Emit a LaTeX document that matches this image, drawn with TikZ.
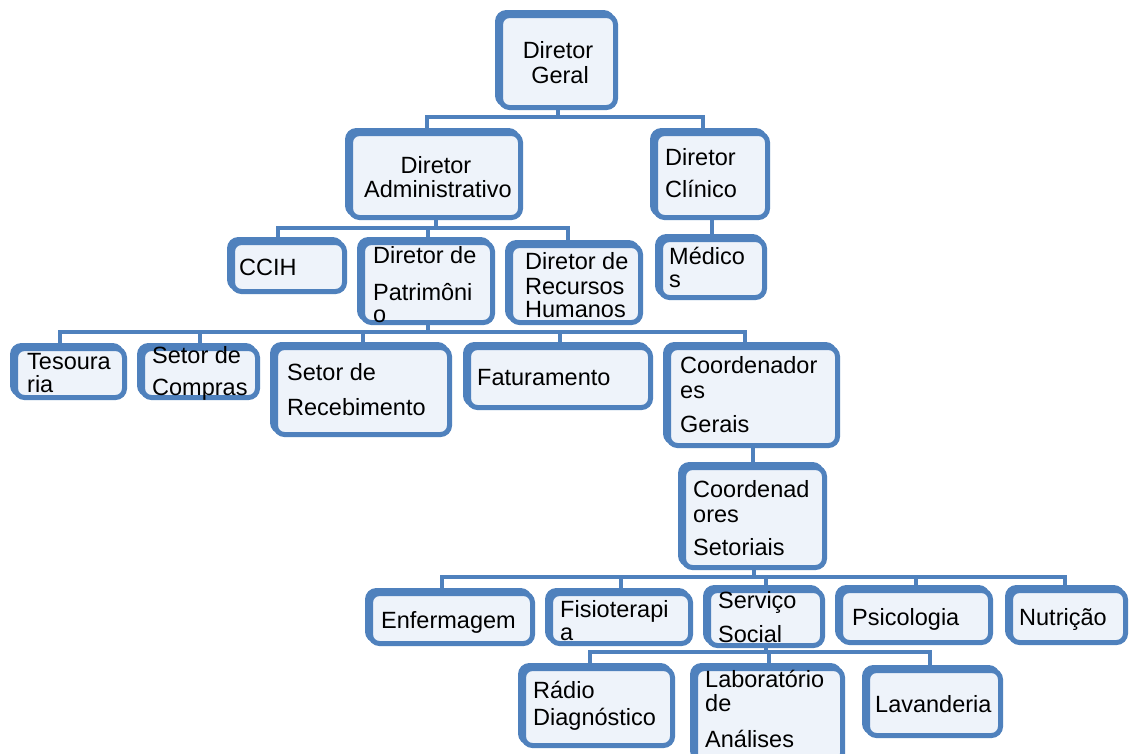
\documentclass[tikz,border=0pt]{standalone}
\usepackage{fontspec}
\setmainfont{Liberation Sans}
\usetikzlibrary{shadows}
\definecolor{bx}{RGB}{79,129,189}
\definecolor{bxf}{RGB}{238,243,250}
\tikzset{
  box/.style={draw=bx, line width=5pt, fill=bxf, rounded corners=9pt, inner sep=0pt,
    general shadow={draw=bx, fill=bx, line width=5pt, shadow xshift=-3pt, shadow yshift=3pt}},
  txt/.style={anchor=base west, inner sep=0pt, font=\fontsize{23.5}{25}\selectfont},
  ctxt/.style={txt, anchor=base},
  conn/.style={draw=bx, line width=4pt},
}
\newcommand\mkbox[5]{\node[box, minimum width={(#4-#2-8)*1pt}, minimum height={(#5-#3-8)*1pt}] (#1) at ({(#2+#4)/2+1.5},{(#3+#5)/2+1.5}) {};}
\newcommand\mktxt[4]{\node[txt] (#1) at (#2,#3) {#4};}
\newcommand\mkctxt[4]{\node[ctxt] (#1) at (#2,#3) {#4};}
\begin{document}
\begin{tikzpicture}[x=1pt,y=-1pt]
\fill[white] (0,0) rectangle (1130,753);
\useasboundingbox (0,0) rectangle (1130,753);
% bar coordinates
\coordinate (b1l) at (427,117); \coordinate (b1r) at (703,117);
\coordinate (b2l) at (278,228); \coordinate (b2r) at (568,228);
\coordinate (b3l) at (60,332);  \coordinate (b3r) at (745,332);
\coordinate (b4l) at (442,577); \coordinate (b4r) at (1065,577);
\coordinate (b5l) at (590,652); \coordinate (b5r) at (930,652);
% boxes
\mkbox{dg}{495}{10}{618}{110}
\mkbox{da}{345}{128}{523}{220}
\mkbox{dc}{650}{128}{770}{220}
\mkbox{ccih}{227}{237}{347}{294}
\mkbox{dp}{357}{237}{495}{325}
\mkbox{drh}{505}{240}{643}{325}
\mkbox{med}{655}{234}{767}{300}
\mkbox{tes}{10}{343}{127}{400}
\mkbox{sc}{137}{343}{260}{400}
\mkbox{sr}{270}{342}{452}{437}
\mkbox{fat}{463}{342}{653}{410}
\mkbox{cg}{663}{342}{840}{448}
\mkbox{cs}{678}{462}{827}{570}
\mkbox{enf}{365}{588}{535}{646}
\mkbox{fis}{545}{588}{693}{646}
\mkbox{ss}{703}{585}{825}{648}
\mkbox{psi}{835}{585}{993}{645}
\mkbox{nut}{1005}{585}{1128}{645}
\mkbox{rd}{518}{663}{675}{748}
\mkbox{lab}{690}{663}{845}{765}
\mkbox{lav}{862}{665}{1003}{738}
% connectors
\draw[conn] (dg.south) -- (dg.south |- b1l);
\draw[conn] (da.north -| b1l) -- (b1l) -- (b1r) -- (dc.north -| b1r);
\draw[conn] (da.south) -- (da.south |- b2l);
\draw[conn] (ccih.north -| b2l) -- (b2l) -- (b2r) -- (drh.north -| b2r);
\draw[conn] (b2l -| dp.north) -- ([yshift=-2pt]dp.north);
\draw[conn] (dc.south) -- (dc.south |- med.north);
\draw[conn] (dp.south) -- (dp.south |- b3l);
\draw[conn] (tes.north -| b3l) -- (b3l) -- (b3r) -- (cg.north -| b3r);
\draw[conn] (b3l -| sc.north) -- (sc.north);
\draw[conn] (b3l -| sr.north) -- (sr.north);
\draw[conn] (b3l -| fat.north) -- (fat.north);
\draw[conn] (cg.south) -- (cg.south |- cs.north);
\draw[conn] (cs.south) -- (cs.south |- b4l);
\draw[conn] (enf.north -| b4l) -- (b4l) -- (b4r) -- (nut.north -| b4r);
\draw[conn] (b4l -| fis.north) -- (fis.north);
\draw[conn] (b4l -| ss.north) -- (ss.north);
\draw[conn] (b4l -| psi.north) -- (psi.north);
\draw[conn] (ss.south) -- (ss.south |- b5l);
\draw[conn] (rd.north -| b5l) -- (b5l) -- (b5r) -- (lav.north -| b5r);
\draw[conn] (b5l -| lab.north) -- (lab.north);
% texts
\mkctxt{dg1}{558}{58}{Diretor}
\mkctxt{dg2}{560}{83}{Geral}
\mkctxt{da1}{436}{173}{Diretor}
\mkctxt{da2}{438}{197}{Administrativo}
\mktxt{dc1}{665}{165}{Diretor}
\mktxt{dc2}{665}{197}{Clínico}
\mktxt{ccih1}{239}{275}{CCIH}
\mktxt{dp1}{373}{263}{Diretor de}
\mktxt{dp2}{373}{300}{Patrimôni}
\mktxt{dp3}{373}{322}{o}
\mktxt{drh1}{525}{269}{Diretor de}
\mktxt{drh2}{525}{294}{Recursos}
\mktxt{drh3}{525}{317}{Humanos}
\mktxt{med1}{669}{264}{Médico}
\mktxt{med2}{669}{287}{s}
\mktxt{tes1}{27}{369}{Tesoura}
\mktxt{tes2}{27}{392}{ria}
\mktxt{sc1}{152}{363}{Setor de}
\mktxt{sc2}{152}{395}{Compras}
\mktxt{sr1}{287}{380}{Setor de}
\mktxt{sr2}{287}{415}{Recebimento}
\mktxt{fat1}{477}{385}{Faturamento}
\mktxt{cg1}{680}{373}{Coordenador}
\mktxt{cg2}{680}{398}{es}
\mktxt{cg3}{680}{432}{Gerais}
\mktxt{cs1}{693}{497}{Coordenad}
\mktxt{cs2}{693}{522}{ores}
\mktxt{cs3}{693}{555}{Setoriais}
\mktxt{enf1}{381}{628}{Enfermagem}
\mktxt{fis1}{560}{617}{Fisioterapi}
\mktxt{fis2}{560}{640}{a}
\mktxt{ss1}{718}{608}{Serviço}
\mktxt{ss2}{718}{642}{Social}
\mktxt{psi1}{852}{625}{Psicologia}
\mktxt{nut1}{1019}{625}{Nutrição}
\mktxt{rd1}{533}{698}{Rádio}
\mktxt{rd2}{533}{725}{Diagnóstico}
\mktxt{lab1}{705}{687}{Laboratório}
\mktxt{lab2}{705}{711}{de}
\mktxt{lab3}{705}{747}{Análises}
\mktxt{lav1}{875}{712}{Lavanderia}
\end{tikzpicture}
\end{document}
